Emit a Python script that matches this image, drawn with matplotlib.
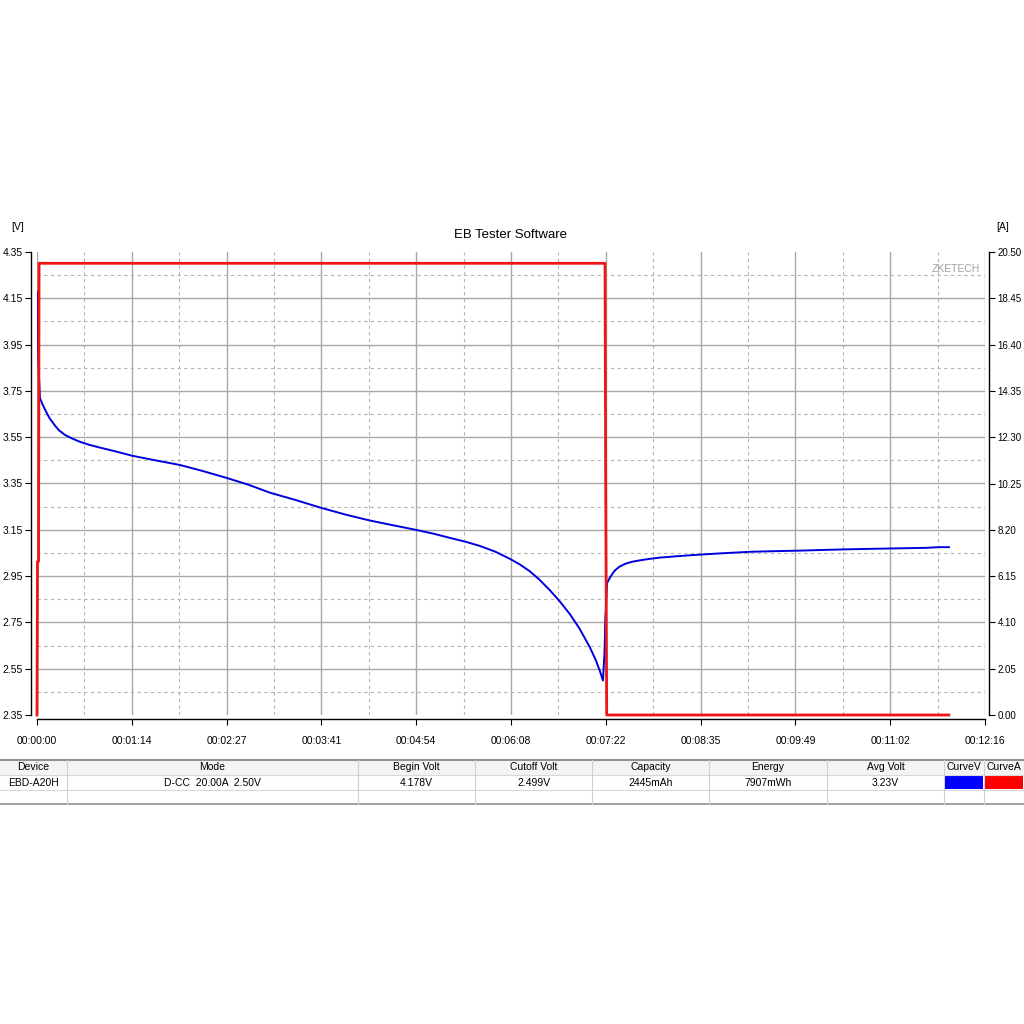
import matplotlib.pyplot as plt
import matplotlib.patches as patches

# voltage curve (time in s, volts)
volt_t = [0, 0.3, 1.0, 2.3, 4, 6.2, 8, 10, 12, 14, 17, 21.7, 27, 33.4, 40, 48.9, 60, 73.8,
          92, 111, 128, 146.7, 164, 181, 200, 220.5, 240, 258.5, 276, 294, 308, 320.6, 333,
          344, 356, 367, 375, 382.8, 390, 398, 406, 413.8, 421, 429, 434, 437, 439.4, 440.6,
          441.2, 442.6, 444, 445, 447, 448.8, 452, 456.6, 462, 468, 475, 483.7, 495, 507,
          530, 553.6, 575, 592.4, 610, 631, 650, 670, 690, 700, 708]
volt_v = [4.178, 4.17, 3.88, 3.72, 3.695, 3.67, 3.65, 3.63, 3.615, 3.60, 3.58, 3.56, 3.545,
          3.53, 3.518, 3.505, 3.49, 3.47, 3.45, 3.43, 3.405, 3.375, 3.345, 3.31, 3.28, 3.245,
          3.215, 3.19, 3.17, 3.15, 3.133, 3.115, 3.098, 3.08, 3.055, 3.025, 3.0, 2.97, 2.935,
          2.89, 2.84, 2.785, 2.725, 2.645, 2.585, 2.54, 2.499, 2.62, 2.76, 2.92, 2.935, 2.945,
          2.962, 2.975, 2.99, 3.003, 3.012, 3.018, 3.024, 3.03, 3.035, 3.04, 3.048, 3.055,
          3.058, 3.06, 3.063, 3.066, 3.068, 3.07, 3.072, 3.075, 3.075]

# current curve (time in s, amps)
amp_t = [0, 0.4, 1.2, 1.6, 441.0, 441.5, 442.3, 708]
amp_a = [0, 6.8, 6.8, 20.0, 20.0, 10.5, 0.0, 0.0]

x_ticks = [0, 73.6, 147.2, 220.8, 294.4, 368, 441.6, 515.2, 588.8, 662.4, 736]
x_labels = ['00:00:00', '00:01:14', '00:02:27', '00:03:41', '00:04:54', '00:06:08',
            '00:07:22', '00:08:35', '00:09:49', '00:11:02', '00:12:16']
v_ticks = [2.35, 2.55, 2.75, 2.95, 3.15, 3.35, 3.55, 3.75, 3.95, 4.15, 4.35]
a_ticks = [0, 2.05, 4.10, 6.15, 8.20, 10.25, 12.30, 14.35, 16.40, 18.45, 20.50]

headers = ['Device', 'Mode', 'Begin Volt', 'Cutoff Volt', 'Capacity', 'Energy', 'Avg Volt',
           'CurveV', 'CurveA']
row = ['EBD-A20H', 'D-CC  20.00A  2.50V', '4.178V', '2.499V', '2445mAh', '7907mWh', '3.23V',
       '', '']

plt.rcParams['font.family'] = 'Liberation Sans'
fig = plt.figure(figsize=(10.24, 10.24), dpi=100)
W = H = 1024.0

ax = fig.add_axes([37 / W, 1 - 715 / H, 948 / W, 463 / H])
ax.set_xlim(0, 736)
ax.set_ylim(2.35, 4.35)

# grid: solid at major, dashed at midpoints
for i, xt in enumerate(x_ticks):
    ax.axvline(xt, color='#a8a8a8', lw=1, zorder=0)
    if i < len(x_ticks) - 1:
        ax.axvline((xt + x_ticks[i + 1]) / 2, color='#b4b4b4', lw=0.8, ls=(0, (3, 3)), zorder=0)
for i, yt in enumerate(v_ticks):
    if 0 < i < len(v_ticks) - 1:
        ax.axhline(yt, color='#a8a8a8', lw=1, zorder=0)
    if i < len(v_ticks) - 1:
        ax.axhline((yt + v_ticks[i + 1]) / 2, color='#b4b4b4', lw=0.8, ls=(0, (3, 3)), zorder=0)

ax.plot(volt_t, volt_v, color='#0000dd', lw=1.4, zorder=3)

ax2 = ax.twinx()
ax2.set_ylim(0, 20.5)
ax2.plot(amp_t, amp_a, color='#ee1515', lw=2, zorder=4, clip_on=False)

for a in (ax, ax2):
    a.spines['top'].set_visible(False)
ax.spines['right'].set_visible(False)
ax2.spines['left'].set_visible(False)
ax2.spines['bottom'].set_visible(False)
ax.spines['left'].set_position(('outward', 4))
ax.spines['bottom'].set_position(('outward', 3))
ax2.spines['right'].set_position(('outward', 3))
for s in (ax.spines['left'], ax.spines['bottom'], ax2.spines['right']):
    s.set_color('black')
    s.set_linewidth(1)

ax.set_xticks(x_ticks)
ax.set_xticklabels(x_labels)
ax.set_yticks(v_ticks)
ax.set_yticklabels(['%.2f' % v for v in v_ticks])
ax2.set_yticks(a_ticks)
ax2.set_yticklabels(['%.2f' % v for v in a_ticks])
ax.tick_params(axis='x', length=4, labelsize=7.5, pad=8, color='black')
ax.tick_params(axis='y', length=4, labelsize=7.5, pad=2, color='black')
ax2.tick_params(axis='y', length=4, labelsize=7, pad=2, color='black')

fig.text(511 / W, 1 - 235 / H, 'EB Tester Software', ha='center', va='center', fontsize=9.5)
fig.text(18 / W, 1 - 227 / H, '[V]', ha='center', va='center', fontsize=7.5)
fig.text(1003 / W, 1 - 227 / H, '[A]', ha='center', va='center', fontsize=7.5)
ax.text(0.995, 0.975, 'ZKETECH', transform=ax.transAxes, ha='right', va='top',
        fontsize=7.5, color='#a0a0a0')

# info table
tab = fig.add_axes([0, 0, 1, 1])
tab.set_xlim(0, W)
tab.set_ylim(H, 0)
tab.axis('off')
cols = [0, 67, 358, 475, 592, 709, 827, 944, 984, 1024]
y0, y1, y2, y3 = 760, 775, 790, 804
tab.add_patch(patches.Rectangle((0, y0), W, y1 - y0, facecolor='#f4f4f4', edgecolor='none'))
tab.plot([0, W], [y0, y0], color='#909090', lw=1.5)
tab.plot([0, W], [y3, y3], color='#909090', lw=1.2)
for yy in (y1, y2):
    tab.plot([0, W], [yy, yy], color='#d8d8d8', lw=0.8)
for cx in cols[1:-1]:
    tab.plot([cx, cx], [y0, y3], color='#d0d0d0', lw=0.8)
for i in range(len(headers)):
    cx = (cols[i] + cols[i + 1]) / 2
    tab.text(cx, (y0 + y1) / 2, headers[i], ha='center', va='center', fontsize=7.5)
    tab.text(cx, (y1 + y2) / 2, row[i], ha='center', va='center', fontsize=7.5)
tab.add_patch(patches.Rectangle((cols[7] + 1, y1 + 1), cols[8] - cols[7] - 2, y2 - y1 - 2,
                                facecolor='#0000ff', edgecolor='none'))
tab.add_patch(patches.Rectangle((cols[8] + 1, y1 + 1), cols[9] - cols[8] - 2, y2 - y1 - 2,
                                facecolor='#ff0000', edgecolor='none'))

fig.savefig('out.png', dpi=100)
